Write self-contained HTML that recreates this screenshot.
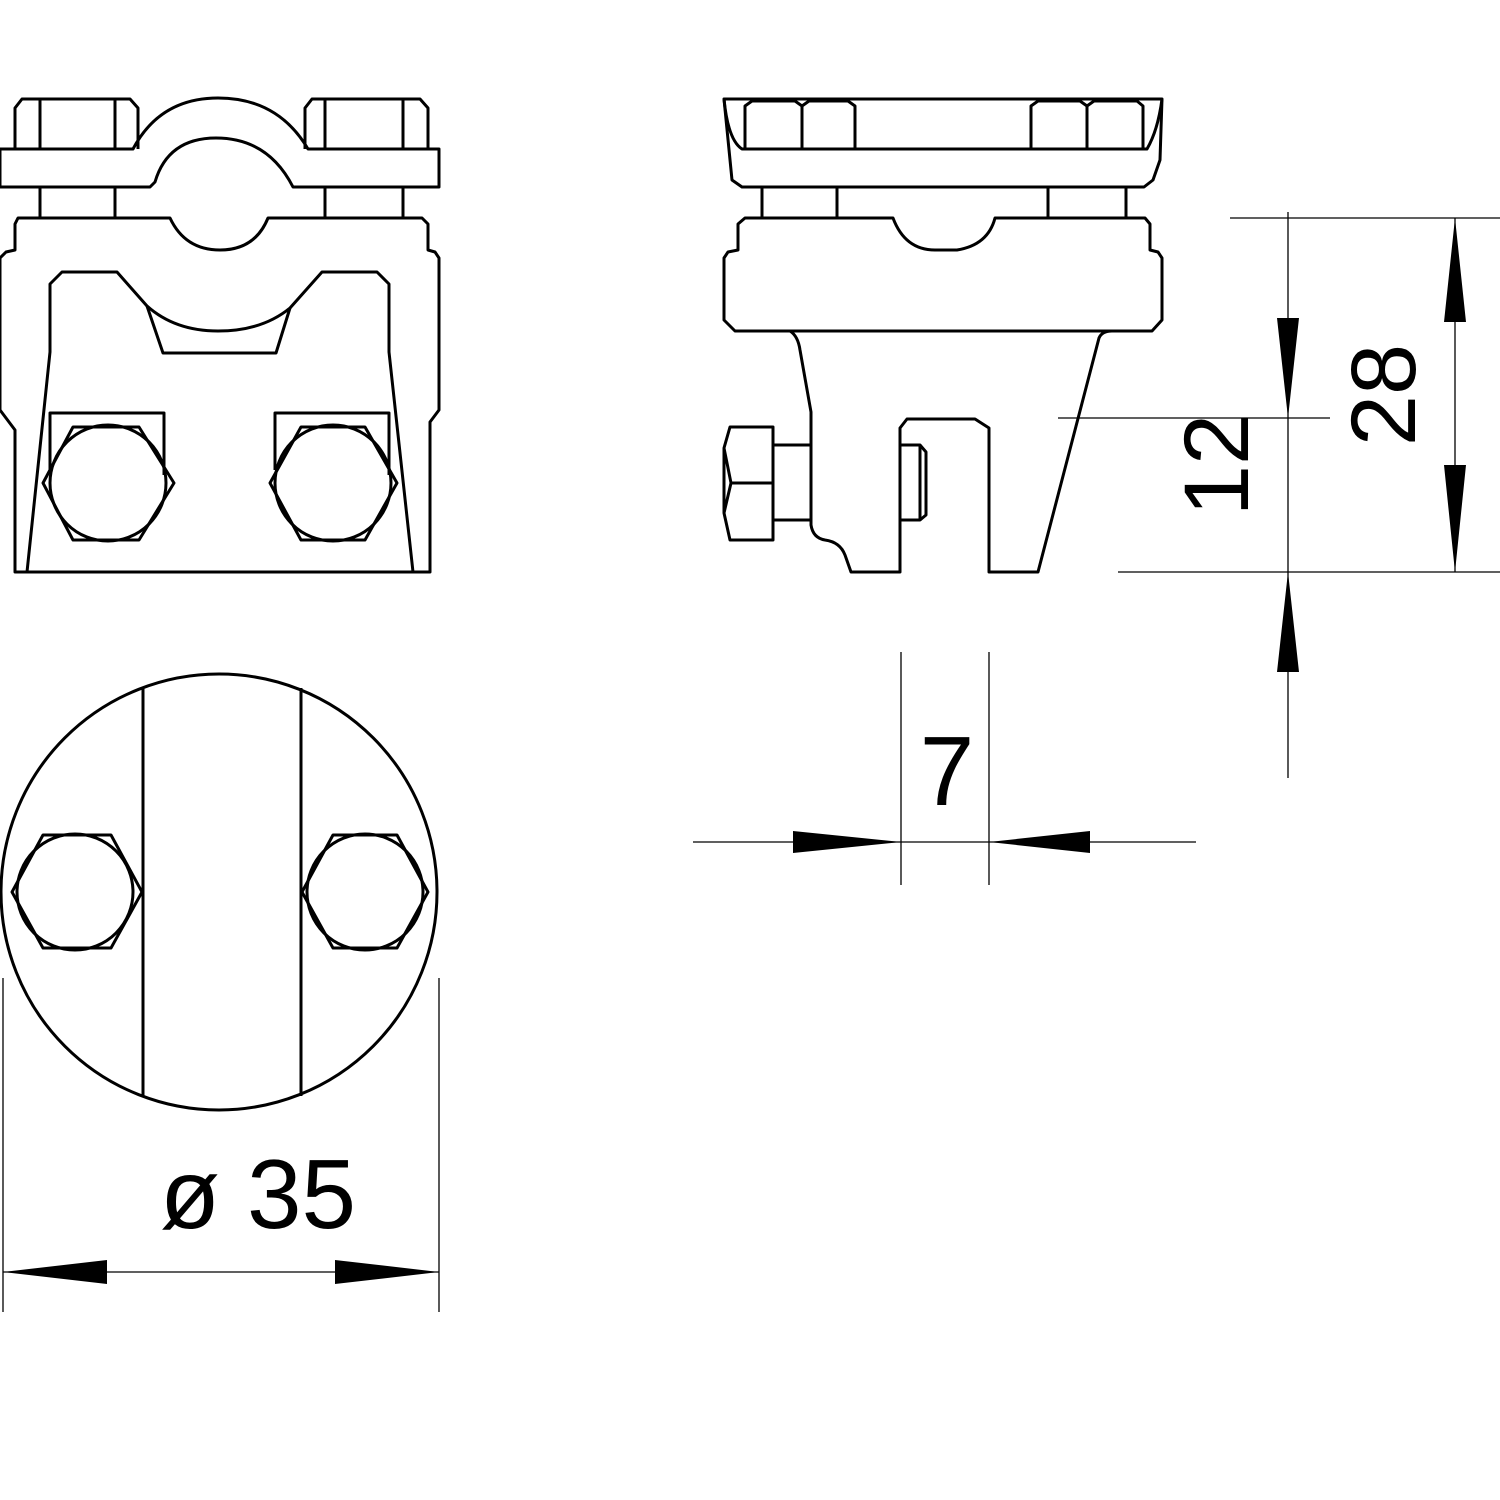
<!DOCTYPE html>
<html><head><meta charset="utf-8"><style>html,body{margin:0;padding:0;background:#fff}svg{display:block}</style></head>
<body>
<svg width="1500" height="1500" viewBox="0 0 1500 1500" xmlns="http://www.w3.org/2000/svg">
<g fill="none" stroke="#000" stroke-width="3" stroke-linejoin="round">
<!-- Top-left view -->
<path d="M15,149 V108 L22,99 H130 L138,108 V149"/>
<path d="M40,99 V149 M115,99 V149"/>
<path d="M305,149 V108 L312,99 H420 L428,108 V149"/>
<path d="M325,99 V149 M403,99 V149"/>
<path d="M0,149 H133 Q160,98 218,98 Q278,98 308,149 H439 V187 H293 Q268,138 216,138 Q168,138 155,182 L150,187 H0 Z"/>
<path d="M40,187 V218 M115,187 V218 M325,187 V218 M403,187 V218"/>
<path d="M18,218 H170 Q185,250 220,250 Q255,250 268,218 H422 L428,224 V250 L435,252 L439,258 V410 L430,422 V572 H15 V430 L0,410 V258 L6,252 L15,250 V224 Z"/>
<path d="M27,572 L50,352 V284 L62,272 H117 L147,306 Q175,331 218,331 Q262,331 290,308 L322,272 H377 L389,284 V352 L413,572"/>
<path d="M147,306 L163,353 H276 L290,308"/>
<path d="M50,470 V413 H164 V475 M275,470 V413 H389 V475"/>
<path d="M43,483 L73,427 H139 L174,483 L139,540 H73 Z"/>
<circle cx="108" cy="483" r="58"/>
<path d="M270,483 L301,427 H365 L397,483 L365,540 H301 Z"/>
<circle cx="333" cy="483" r="58"/>

<!-- Top-right view -->
<path d="M724,99 H1162 L1160,160 L1153,180 L1144,187 H742 L732,180 Z"/>
<path d="M724,99 Q728,140 742,149 H1147 Q1158,130 1162,99"/>
<path d="M745,149 V106 L752,101 H795 L802,106 L809,101 H848 L855,106 V149 M802,106 V149"/>
<path d="M1031,149 V106 L1038,101 H1080 L1087,106 L1094,101 H1137 L1143,106 V149 M1087,106 V149"/>
<path d="M762,187 V218 M837,187 V218 M1048,187 V218 M1126,187 V218"/>
<path d="M745,218 H893 Q905,250 935,250 H957 Q988,245 995,218 H1145 L1150,224 V250 L1158,252 L1162,258 V320 L1152,331 H735 L724,320 V258 L728,252 L738,250 V224 Z"/>
<path d="M790,331 Q798,336 800,350 L811,412 V525 Q813,538 825,540 Q840,542 845,555 L851,572 H900 V428 L907,419 H975 L989,428 V572 H1038 L1099,338 Q1102,331 1112,331"/>
<path d="M730,427 H773 V540 H730 L724,513 V448 Z M724,448 L731,483 L724,513 M731,483 H773"/>
<path d="M773,445 H811 M773,520 H811"/>
<path d="M901,445 H920 L926,452 V515 L920,520 H901 M920,445 V520"/>

<!-- Bottom circle view -->
<circle cx="219" cy="892" r="218"/>
<path d="M143,688 V1096 M301,688 V1096"/>
<path d="M12,892 L43,835 H111 L142,892 L111,948 H43 Z"/>
<circle cx="75" cy="892" r="58"/>
<path d="M302,892 L333,835 H397 L428,892 L397,948 H333 Z"/>
<circle cx="365" cy="892" r="58"/>
</g>

<!-- Dimension lines -->
<g fill="none" stroke="#000" stroke-width="1.3">
<path d="M1230,218 H1500 M1118,572 H1500 M1455,218 V572"/>
<path d="M1058,418 H1330 M1288,212 V778"/>
<path d="M901,652 V885 M989,652 V885 M693,842 H1196"/>
<path d="M3,978 V1312 M439,978 V1312 M3,1272 H439"/>
</g>
<g fill="#000">
<path d="M1455,218 L1444,322 H1466 Z M1455,572 L1444,465 H1466 Z"/>
<path d="M1288,418 L1277,318 H1299 Z M1288,572 L1277,672 H1299 Z"/>
<path d="M901,842 L793,831 V853 Z M989,842 L1090,831 V853 Z"/>
<path d="M3,1272 L107,1260 V1284 Z M439,1272 L335,1260 V1284 Z"/>
</g>
<g font-family="Liberation Sans, sans-serif" font-size="92" fill="#000">
<text transform="translate(1415,395) rotate(-90)" text-anchor="middle">28</text>
<text transform="translate(1248,465) rotate(-90)" text-anchor="middle">12</text>
<text x="947" y="805" text-anchor="middle" font-size="98">7</text>
<text x="258" y="1228" text-anchor="middle" font-size="98">ø 35</text>
</g>
</svg>
</body></html>
